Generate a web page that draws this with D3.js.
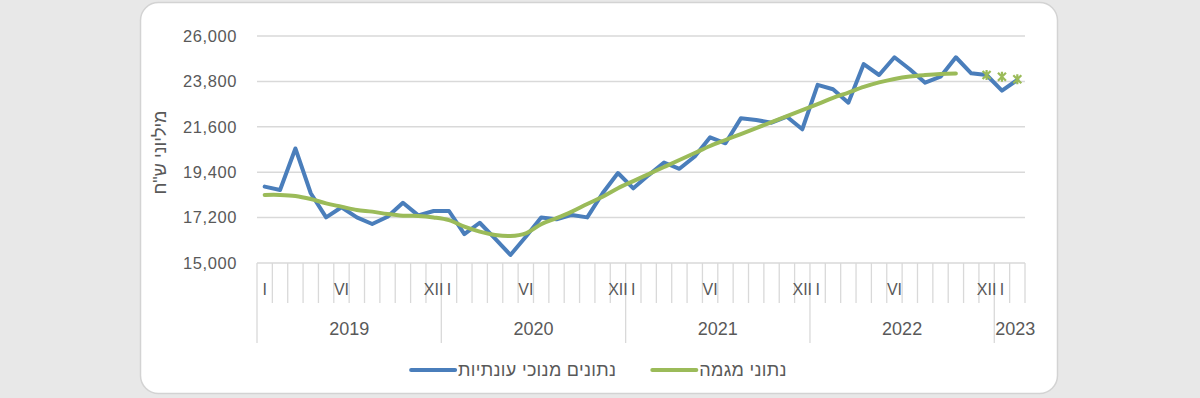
<!DOCTYPE html>
<html>
<head>
<meta charset="utf-8">
<script src="https://cdn.jsdelivr.net/npm/d3@7"></script>
<style>
  html, body { margin: 0; padding: 0; background: #e8e8e8; }
  svg { display: block; }
  text { font-family: "Liberation Sans", Arial, sans-serif; fill: #595959; }
</style>
</head>
<body>
<svg id="chart" width="1200" height="398"></svg>
<script>
// years on the outer axis level and how many months each one has in the data
const years = ['2019', '2020', '2021', '2022', '2023'];
const monthsPerYear = [12, 12, 12, 12, 2];
// inner axis labels (only some months are labelled)
const monthLabels = ['I', '', '', '', '', 'VI', '', '', '', '', '', 'XII'];
const yTicks = [15000, 17200, 19400, 21600, 23800, 26000];

// seasonally adjusted, Jan 2019 - Feb 2023
const seasonal = [
  18700, 18540, 20550, 18380, 17210, 17700, 17210, 16890, 17240, 17920, 17310, 17520,
  17520, 16400, 16950, 16180, 15390, 16270, 17210, 17120, 17330, 17210, 18380, 19360,
  18620, 19260, 19870, 19565, 20160, 21090, 20800, 22010, 21930, 21800, 22090, 21480,
  23630, 23420, 22770, 24640, 24110, 24970, 24390, 23740, 24030, 24970, 24190, 24110,
  23350, 23870,
];
// trend, Jan 2019 - Oct 2022
const trend = [
  18300, 18300, 18250, 18100, 17890, 17730, 17570, 17490, 17370, 17290, 17280, 17210,
  17080, 16760, 16520, 16360, 16310, 16440, 16880, 17170, 17490, 17860, 18210, 18620,
  18970, 19310, 19650, 19990, 20330, 20670, 20960, 21250, 21540, 21830, 22120, 22410,
  22700, 23000, 23260, 23530, 23750, 23920, 24040, 24110, 24160, 24180,
];
// trend estimates shown as markers, Dec 2022 - Feb 2023
const trendMarks = [24110, 24030, 23900];

const legendLabels = ['נתונים מנוכי עונתיות', 'נתוני מגמה'];
const yTitle = 'מיליוני ש"ח';

const cs = {
  palette: { seasonal: '#4a7ebb', trend: '#9bbb59', grid: '#d9d9d9', text: '#595959' },
  box: { x: 140.5, y: 2.5, w: 917, h: 391, r: 18 },
  plot: { left: 257, right: 1025, top: 36, bottom: 263 },
  x: { tickShort: 40, tickLong: 80, labelY: 295, yearY: 335 },
};

const svg = d3.select('#chart');

// categories
const cats = [];
years.forEach((yr, yi) => {
  d3.range(monthsPerYear[yi]).forEach((m) => {
    cats.push({ year: yr, month: m, label: monthLabels[m] });
  });
});
const n = cats.length;

const x = d3.scaleBand().domain(d3.range(n)).range([cs.plot.left, cs.plot.right]);
const cx = i => x(i) + x.bandwidth() / 2;
const y = d3.scaleLinear().domain([yTicks[0], yTicks[yTicks.length - 1]])
  .range([cs.plot.bottom, cs.plot.top]);

// white rounded panel
svg.append('rect')
  .attr('x', cs.box.x).attr('y', cs.box.y)
  .attr('width', cs.box.w).attr('height', cs.box.h)
  .attr('rx', cs.box.r)
  .attr('fill', '#fff')
  .attr('stroke', '#d3d3d3')
  .attr('stroke-width', 1.5);

// gridlines
svg.append('g').selectAll('line').data(yTicks).enter().append('line')
  .attr('x1', cs.plot.left).attr('x2', cs.plot.right)
  .attr('y1', d => y(d)).attr('y2', d => y(d))
  .attr('stroke', cs.palette.grid)
  .attr('stroke-width', 1.5);

// y axis labels
const yAxis = d3.axisLeft(y).tickValues(yTicks).tickSize(0).tickPadding(20)
  .tickFormat(d3.format(','));
const gy = svg.append('g').attr('transform', `translate(${cs.plot.left},0)`).call(yAxis);
gy.select('.domain').remove();
gy.selectAll('text')
  .style('font-family', '"Liberation Sans", Arial, sans-serif')
  .style('font-size', '16.5px')
  .style('letter-spacing', '0.6px')
  .attr('fill', cs.palette.text);

// y title
svg.append('text')
  .attr('transform', `translate(166,${(cs.plot.top + cs.plot.bottom) / 2 + 3}) rotate(-90)`)
  .attr('text-anchor', 'middle')
  .style('font-size', '18px')
  .text(yTitle);

// x axis: category ticks, year separators
const gx = svg.append('g');
const tickPos = d3.range(n).map(i => ({ x: x(i), long: cats[i].month === 0 }));
tickPos.push({ x: cs.plot.right, long: false });
gx.selectAll('line.tick').data(tickPos).enter().append('line')
  .attr('class', 'tick')
  .attr('x1', d => d.x).attr('x2', d => d.x)
  .attr('y1', cs.plot.bottom)
  .attr('y2', d => cs.plot.bottom + (d.long ? cs.x.tickLong : cs.x.tickShort))
  .attr('stroke', cs.palette.grid)
  .attr('stroke-width', 1.3);

gx.selectAll('text.month').data(cats.map((c, i) => ({ ...c, i })).filter(c => c.label))
  .enter().append('text')
  .attr('class', 'month')
  .attr('x', d => cx(d.i))
  .attr('y', cs.x.labelY)
  .attr('text-anchor', 'middle')
  .style('font-size', '16px')
  .text(d => d.label);

// year labels centred under their months
const yearSpans = years.map((yr) => {
  const idx = cats.map((c, i) => (c.year === yr ? i : -1)).filter(i => i >= 0);
  return { yr, x0: x(idx[0]), x1: x(idx[idx.length - 1]) + x.bandwidth() };
});
gx.selectAll('text.year').data(yearSpans).enter().append('text')
  .attr('class', 'year')
  .attr('x', d => (d.x1 - d.x0 > 60 ? (d.x0 + d.x1) / 2 : d.x0 + 1))
  .attr('y', cs.x.yearY)
  .attr('text-anchor', d => (d.x1 - d.x0 > 60 ? 'middle' : 'start'))
  .style('font-size', '18px')
  .text(d => d.yr);

// lines
const line = d3.line().x((d, i) => cx(i)).y(d => y(d));
svg.append('path')
  .attr('d', line(seasonal))
  .attr('fill', 'none')
  .attr('stroke', cs.palette.seasonal)
  .attr('stroke-width', 4)
  .attr('stroke-linejoin', 'round')
  .attr('stroke-linecap', 'round');

const smooth = d3.line().x((d, i) => cx(i)).y(d => y(d)).curve(d3.curveCatmullRom.alpha(0.5));
svg.append('path')
  .attr('d', smooth(trend))
  .attr('fill', 'none')
  .attr('stroke', cs.palette.trend)
  .attr('stroke-width', 4)
  .attr('stroke-linecap', 'round');

// star markers
const markStart = n - trendMarks.length;
const star = 'M-4,-4L4,4M-4,4L4,-4M0,-5L0,5';
svg.append('g').selectAll('path').data(trendMarks).enter().append('path')
  .attr('transform', (d, i) => `translate(${cx(markStart + i)},${y(d)})`)
  .attr('d', star)
  .attr('fill', 'none')
  .attr('stroke', cs.palette.trend)
  .attr('stroke-width', 2.2);

// legend
const legend = svg.append('g');
const items = [
  { label: legendLabels[0], color: cs.palette.seasonal },
  { label: legendLabels[1], color: cs.palette.trend },
];
const sampleW = 44;
const itemGap = 36;
let lx = 0;
items.forEach((it) => {
  const g = legend.append('g').attr('transform', `translate(${lx},0)`);
  g.append('line')
    .attr('x1', 0).attr('x2', sampleW)
    .attr('y1', 0).attr('y2', 0)
    .attr('stroke', it.color)
    .attr('stroke-width', 4)
    .attr('stroke-linecap', 'round');
  const t = g.append('text')
    .attr('x', sampleW + 3)
    .attr('y', 6)
    .style('font-size', '18px')
    .style('letter-spacing', '0.3px')
    .text(it.label);
  lx += sampleW + 3 + t.node().getComputedTextLength() + itemGap;
});
const legendW = lx - itemGap;
legend.attr('transform', `translate(${cs.box.x + cs.box.w / 2 - legendW / 2},370)`);
</script>
</body>
</html>
